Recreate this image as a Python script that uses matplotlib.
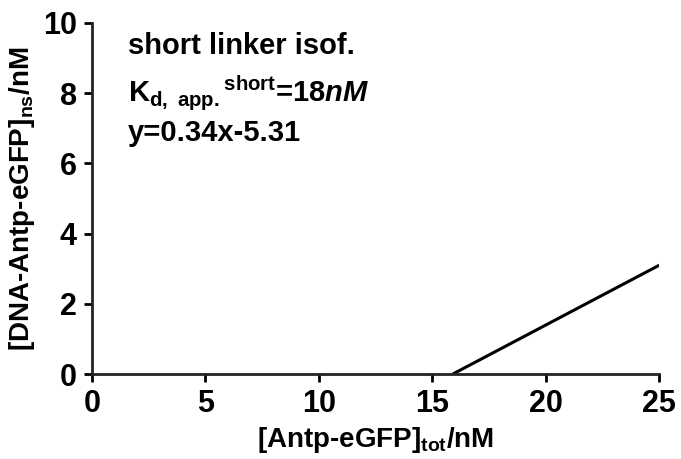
import numpy as np
import matplotlib.pyplot as plt

# Fit line (y = 0.34x - 5.31, clipped at y=0)
x_fit = [15.9, 25.0]
y_fit = [0.0, 3.1]

x_ticks = [0, 5, 10, 15, 20, 25]
y_ticks = [0, 2, 4, 6, 8, 10]

plt.rcParams['font.family'] = 'Liberation Sans'
plt.rcParams['font.weight'] = 'bold'
plt.rcParams['mathtext.fontset'] = 'custom'
plt.rcParams['mathtext.rm'] = 'Liberation Sans:bold'
plt.rcParams['mathtext.it'] = 'Liberation Sans:bold:italic'
plt.rcParams['mathtext.bf'] = 'Liberation Sans:bold'

fig = plt.figure(figsize=(6.81, 4.59), dpi=100)
ax = fig.add_axes([0.135, 0.185, 0.833, 0.765])

ax.plot(x_fit, y_fit, color='black', lw=2.2, solid_capstyle='butt')

ax.set_xlim(0, 25)
ax.set_ylim(0, 10)
ax.set_xticks(x_ticks)
ax.set_yticks(y_ticks)
ax.tick_params(direction='out', length=6, width=2, labelsize=22, pad=5)
for s in ['top', 'right']:
    ax.spines[s].set_visible(False)
for s in ['left', 'bottom']:
    ax.spines[s].set_linewidth(2)
    ax.spines[s].set_color('#222222')

ax.set_xlabel(r'[Antp-eGFP]$_{\rm tot}$/nM', fontsize=20, fontweight='bold', labelpad=4)
ax.set_ylabel(r'[DNA-Antp-eGFP]$_{\rm ns}$/nM', fontsize=20, fontweight='bold', labelpad=4)

ax.text(1.6, 9.12, 'short linker isof.', fontsize=21)
ax.text(1.6, 7.75, r'K$_{\rm d,\ app.}{}^{\rm short}$=18$\it nM$', fontsize=21)
ax.text(1.6, 6.65, 'y=0.34x-5.31', fontsize=21)

plt.savefig('out.png', dpi=100)
